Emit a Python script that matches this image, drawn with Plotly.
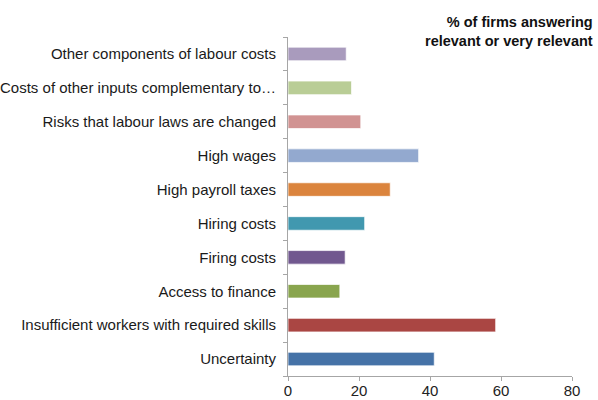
import plotly.graph_objects as go

# Survey obstacles, listed bottom to top as drawn on the category axis
categories = [
    "Uncertainty",
    "Insufficient workers with required skills",
    "Access to finance",
    "Firing costs",
    "Hiring costs",
    "High payroll taxes",
    "High wages",
    "Risks that labour laws are changed",
    "Costs of other inputs complementary to…",
    "Other components of labour costs",
]
shares = [41.2, 58.5, 14.6, 16.1, 21.6, 28.8, 36.8, 20.5, 17.9, 16.4]
bar_colors = [
    "#4572A7", "#AA4643", "#89A54E", "#71588F", "#4198AF",
    "#DB843D", "#93A9CF", "#D19392", "#B9CD96", "#A99BBD",
]
x_ticks = [0, 20, 40, 60, 80]

fig = go.Figure(
    go.Bar(
        x=shares,
        y=categories,
        orientation="h",
        width=0.4,
        marker=dict(color=bar_colors, line=dict(color="rgba(255,255,255,0.7)", width=1)),
        hoverinfo="x+y",
    )
)

axis_grey = "#A6A6A6"
fig.update_layout(
    width=598,
    height=400,
    margin=dict(l=288, r=26, t=37, b=24),
    paper_bgcolor="white",
    plot_bgcolor="white",
    showlegend=False,
    font=dict(family="Liberation Sans, Arial, sans-serif", color="#1a1a1a"),
    xaxis=dict(
        range=[0, 80],
        tickvals=x_ticks,
        showgrid=False,
        zeroline=False,
        showline=True,
        linecolor=axis_grey,
        linewidth=1,
        ticks="outside",
        ticklen=4,
        tickcolor=axis_grey,
        tickfont=dict(size=15, color="#222222"),
        ticklabelstandoff=-3,
        automargin=False,
        fixedrange=True,
    ),
    yaxis=dict(
        type="category",
        categoryorder="array",
        categoryarray=categories,
        range=[-0.5, len(categories) - 0.5],
        showgrid=False,
        zeroline=False,
        showline=True,
        linecolor=axis_grey,
        linewidth=1,
        ticks="outside",
        tickson="boundaries",
        ticklen=4,
        tickcolor=axis_grey,
        tickfont=dict(size=15, color="#1a1a1a"),
        ticklabelstandoff=8,
        automargin=False,
        fixedrange=True,
    ),
    annotations=[
        dict(
            text="<b>% of firms answering<br>relevant or very relevant</b>",
            xref="paper",
            yref="paper",
            x=1.081,
            y=1.074,
            xanchor="right",
            yanchor="top",
            align="right",
            showarrow=False,
            font=dict(size=14.5, color="#111111"),
        )
    ],
)

fig.write_html("out.html")
